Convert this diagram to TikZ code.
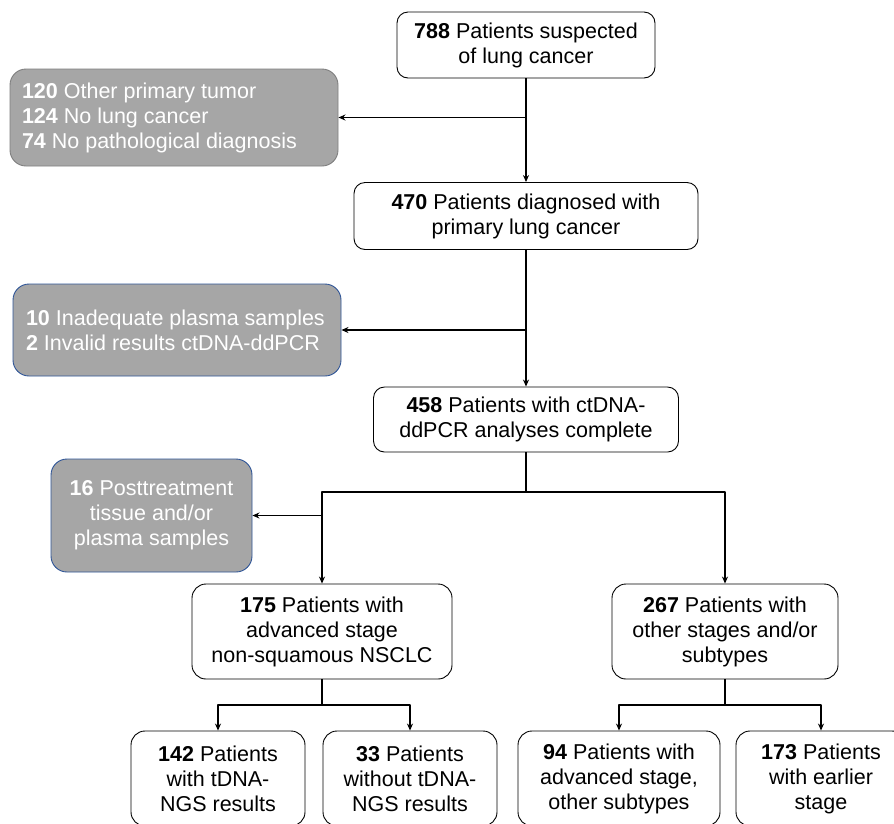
\documentclass[tikz,border=0pt]{standalone}
\usepackage{fontspec}
\setmainfont{Liberation Sans}
\usetikzlibrary{arrows.meta}
\definecolor{exgray}{HTML}{A6A6A6}
\definecolor{exblue}{HTML}{2F5597}
\definecolor{exedge}{HTML}{7F7F7F}

\begin{document}
\begin{tikzpicture}[x=1pt, y=-1pt, line join=round, >={Stealth[length=7pt,width=6pt]},
  font=\fontsize{21.5}{25}\selectfont,
  patbox/.style={draw=black, line width=0.9pt, rounded corners=11pt, fill=white, align=center, inner sep=0pt},
  exbox/.style={draw=exblue, line width=0.9pt, rounded corners=16pt, fill=exgray, text=white, inner sep=0pt},
  flow/.style={line width=1.3pt}]

	\useasboundingbox[fill=white] (0,0) rectangle (894,823);

	\node[patbox, minimum width=258pt, minimum height=66pt] (n788) at (526,45) {\textbf{788} Patients suspected\\of lung cancer};
	\node[exbox, draw=exedge, text width=314pt, inner xsep=7pt, minimum height=97pt, align=flush left] (ex1) at (174,117.5)
		{\hspace*{5pt}\textbf{120} Other primary tumor\\\hspace*{5pt}\textbf{124} No lung cancer\\\hspace*{5pt}\textbf{74} No pathological diagnosis};
	\node[patbox, minimum width=344pt, minimum height=67pt] (n470) at (526,216) {\textbf{470} Patients diagnosed with\\primary lung cancer};
	\node[exbox, text width=314pt, inner xsep=7pt, minimum height=92pt, align=flush left] (ex2) at (177,330)
		{\hspace*{6pt}\textbf{10} Inadequate plasma samples\\\hspace*{6pt}\textbf{2} Invalid results ctDNA-ddPCR};
	\node[patbox, minimum width=305pt, minimum height=65pt] (n458) at (526,419.5) {\textbf{458} Patients with ctDNA-\\ddPCR analyses complete};
	\node[exbox, minimum width=201pt, minimum height=113pt, align=center] (ex3) at (151.5,515.5)
		{\textbf{16} Posttreatment\\tissue and/or\\plasma samples};
	\node[patbox, rounded corners=14pt, minimum width=260pt, minimum height=95pt] (n175) at (322,631.5) {\textbf{175} Patients with\\advanced stage\\non-squamous NSCLC};
	\node[patbox, rounded corners=14pt, minimum width=226pt, minimum height=95pt] (n267) at (725,631.5) {\textbf{267} Patients with\\other stages and/or\\subtypes};
	\node[patbox, rounded corners=14pt, minimum width=174pt, minimum height=95pt] (n142) at (218,778.5) {\textbf{142} Patients\\with tDNA-\\NGS results};
	\node[patbox, rounded corners=14pt, minimum width=174pt, minimum height=95pt] (n33) at (410,778.5) {\textbf{33} Patients\\without tDNA-\\NGS results};
	\node[patbox, rounded corners=14pt, minimum width=202pt, minimum height=95pt] (n94) at (619,778.5) {\textbf{94} Patients with\\advanced stage,\\other subtypes};
	\node[patbox, rounded corners=14pt, minimum width=170pt, minimum height=95pt] (n173) at (821,778.5) {\textbf{173} Patients\\with earlier\\stage};

	\coordinate (s458) at (526,492);
	\coordinate (s175) at (322,705);
	\coordinate (s267) at (725,705);

	\draw[flow,->] (n788) -- (n470);
	\draw[flow,->] (n788.south |- ex1.east) -- (ex1.east);
	\draw[flow,->] (n470) -- (n458);
	\draw[flow,->] (n470.south |- ex2.east) -- (ex2.east);
	\draw[flow] (n458) -- (s458);
	\draw[flow,->] (s458) -| (n175);
	\draw[flow,->] (s458) -| (n267);
	\draw[flow,->] (n175.north |- ex3.east) -- (ex3.east);
	\draw[flow] (n175) -- (s175);
	\draw[flow,->] (s175) -| (n142);
	\draw[flow,->] (s175) -| (n33);
	\draw[flow] (n267) -- (s267);
	\draw[flow,->] (s267) -| (n94);
	\draw[flow,->] (s267) -| (n173);
\end{tikzpicture}
\end{document}
